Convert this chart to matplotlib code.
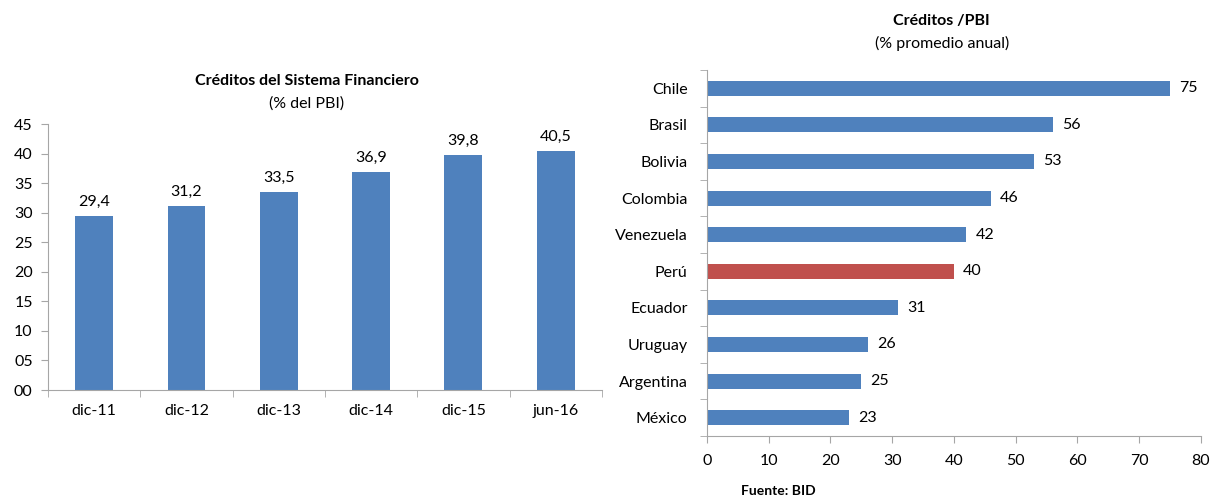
import matplotlib.pyplot as plt
import numpy as np

plt.rcParams['font.family'] = ['Lato', 'DejaVu Sans']

# left chart data
periodos = ['dic-11', 'dic-12', 'dic-13', 'dic-14', 'dic-15', 'jun-16']
creditos = [29.4, 31.2, 33.5, 36.9, 39.8, 40.5]

# right chart data
paises = ['Chile', 'Brasil', 'Bolivia', 'Colombia', 'Venezuela', 'Perú',
          'Ecuador', 'Uruguay', 'Argentina', 'México']
credito_pbi = [75, 56, 53, 46, 42, 40, 31, 26, 25, 23]

azul = '#4F81BD'
rojo = '#C0504D'
gris = '#A6A6A6'
fs = 11.5

fig = plt.figure(figsize=(12.12, 5), dpi=100)

# ---- left: bars by period
ax1 = fig.add_axes([0.0396, 0.22, 0.457, 0.532])
x = np.arange(len(periodos))
ax1.bar(x, creditos, width=0.41, color=azul)
for xi, v in zip(x, creditos):
    ax1.text(xi, v + 1.2, f'{v:.1f}'.replace('.', ','), ha='center', va='bottom', fontsize=fs)
ax1.set_xlim(-0.5, len(periodos) - 0.5)
ax1.set_ylim(0, 45)
ax1.set_yticks(range(0, 50, 5))
ax1.set_yticklabels([f'{t:02d}' for t in range(0, 50, 5)], fontsize=fs)
ax1.set_xticks(x)
ax1.set_xticklabels(periodos, fontsize=fs)
ax1.tick_params(axis='x', length=0, pad=10)
ax1.set_xticks(np.arange(-0.5, len(periodos)), minor=True)
ax1.tick_params(axis='x', which='minor', length=5, color=gris)
ax1.tick_params(axis='y', length=5, color=gris, pad=6)
for s in ['top', 'right']:
    ax1.spines[s].set_visible(False)
for s in ['left', 'bottom']:
    ax1.spines[s].set_color(gris)
fig.text(0.253, 0.83, 'Créditos del Sistema Financiero', ha='center', fontsize=fs, fontweight='bold')
fig.text(0.253, 0.784, '(% del PBI)', ha='center', fontsize=fs)

# ---- right: horizontal bars by country
ax2 = fig.add_axes([0.5833, 0.128, 0.4076, 0.732])
y = np.arange(len(paises))
colores = [rojo if p == 'Perú' else azul for p in paises]
ax2.barh(y, credito_pbi, height=0.41, color=colores)
for yi, v in zip(y, credito_pbi):
    ax2.text(v + 1.5, yi, str(v), va='center', ha='left', fontsize=fs)
ax2.set_ylim(len(paises) - 0.5, -0.5)
ax2.set_xlim(0, 80)
ax2.set_xticks(range(0, 90, 10))
ax2.set_xticklabels([str(t) for t in range(0, 90, 10)], fontsize=fs)
ax2.set_yticks(y)
ax2.set_yticklabels(paises, fontsize=fs)
ax2.tick_params(axis='y', length=0, pad=14)
ax2.set_yticks(np.arange(-0.5, len(paises)), minor=True)
ax2.tick_params(axis='y', which='minor', length=5, color=gris)
ax2.tick_params(axis='x', length=5, color=gris, pad=8)
for s in ['top', 'right']:
    ax2.spines[s].set_visible(False)
for s in ['left', 'bottom']:
    ax2.spines[s].set_color(gris)
fig.text(0.777, 0.95, 'Créditos /PBI', ha='center', fontsize=fs, fontweight='bold')
fig.text(0.777, 0.904, '(% promedio anual)', ha='center', fontsize=fs)
fig.text(0.611, 0.01, 'Fuente: BID', ha='left', fontsize=10, fontweight='bold')

fig.savefig('out.png', dpi=100)
